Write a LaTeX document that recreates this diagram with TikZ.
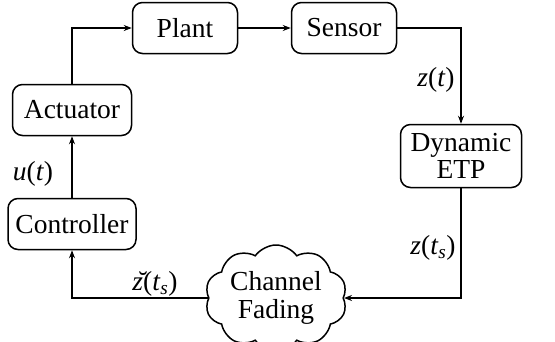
\documentclass[tikz,border=0pt]{standalone}
\usepackage{amsmath}
\usepackage{fontspec}
\setmainfont{Liberation Serif}
\usetikzlibrary{shapes.symbols,arrows.meta}

\begin{document}
\begin{tikzpicture}[x=1pt,y=-1pt,font=\fontsize{27.5}{27.5}\selectfont,
    line width=1.5pt,>={Stealth[length=8pt,width=6pt]}]
                \useasboundingbox (0,0) rectangle (555,341);

                \begin{scope}[every node/.style={draw,rounded corners=10pt,line width=1.5pt,
                    minimum height=51pt,inner sep=2pt,align=center}]
                    \node[minimum width=105pt] (plant) at (185,28) {Plant};
                    \node[minimum width=105pt] (sensor) at (344,28) {Sensor};
                    \node[minimum width=119pt] (act) at (72,110) {Actuator};
                    \node[minimum width=121pt,minimum height=63pt] (etp) at (461,156) {Dynamic\\[-1pt]ETP};
                    \node[minimum width=128pt] (ctrl) at (72,224) {Controller};
                \end{scope}

                \node[draw,cloud,cloud puffs=10,cloud puff arc=110,aspect=1.45,line width=1.5pt,align=center,
                    minimum width=142pt,minimum height=106pt,inner sep=0pt] (chan) at (276,298) {Channel\\[1pt]Fading};

                \begin{scope}[every edge/.style={draw=black,line width=1.2pt}]
                    \draw [->] (act.north) |- (plant.west);
                    \path [->] (plant) edge (sensor);
                    \draw [->] (sensor.east) -| (etp.north);
                    \draw [->] (etp.south) |- (chan.east);
                    \draw [->] (chan.west) -| (ctrl.south);
                    \path [->] (ctrl) edge (act);
                \end{scope}

                \node (zt) at (436,80) {\textit{z}(\textit{t})};
                \node (ut) at (33,174) {\textit{u}(\textit{t})};
                \node (zts) at (433,248) {\textit{z}(\textit{t}$_{\textit{s}}$)};
                \node (zbr) at (155,284) {\u{\textit{z}}(\textit{t}$_{\textit{s}}$)};
\end{tikzpicture}
\end{document}
